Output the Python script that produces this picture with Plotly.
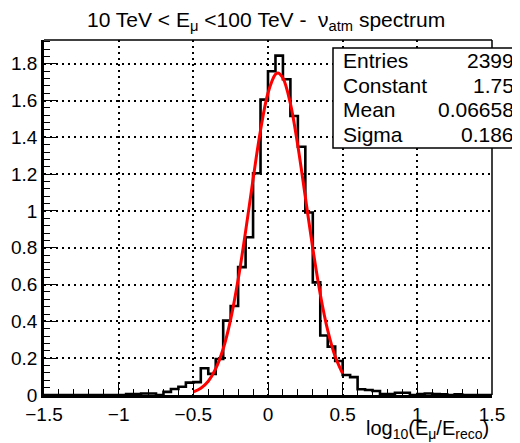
import plotly.graph_objects as go

# the page puts the figure 8px in from the top-left corner, so the figure is
# made 8px smaller and all placements below are given in window pixels
OFF = 8
W, H = 520 - OFF, 443 - OFF
FRAME_L, FRAME_R, FRAME_T, FRAME_B = 44, 492, 40, 395

# histogram binning: 60 bins of 0.05 between -1.5 and 1.5
bin_edges = [-1.5, -1.45, -1.4, -1.35, -1.3, -1.25, -1.2, -1.15, -1.1, -1.05,
             -1.0, -0.95, -0.9, -0.85, -0.8, -0.75, -0.7, -0.65, -0.6, -0.55,
             -0.5, -0.45, -0.4, -0.35, -0.3, -0.25, -0.2, -0.15, -0.1, -0.05,
             0.0, 0.05, 0.1, 0.15, 0.2, 0.25, 0.3, 0.35, 0.4, 0.45,
             0.5, 0.55, 0.6, 0.65, 0.7, 0.75, 0.8, 0.85, 0.9, 0.95,
             1.0, 1.05, 1.1, 1.15, 1.2, 1.25, 1.3, 1.35, 1.4, 1.45, 1.5]

# bin contents (normalised)
bin_content = [0, 0, 0, 0, 0, 0, 0, 0, 0, 0,
               0, 0.005, 0.005, 0.008, 0.008, 0.0, 0.017, 0.033, 0.045, 0.067,
               0.070, 0.145, 0.115, 0.196, 0.404, 0.484, 0.695, 0.857, 1.205, 1.605,
               1.759, 1.844, 1.716, 1.516, 1.349, 0.992, 0.612, 0.323, 0.263, 0.185,
               0.109, 0.097, 0.031, 0.027, 0.022, 0.005, 0.005, 0.012, 0.012, 0.0,
               0.005, 0.008, 0.005, 0.004, 0.0, 0.004, 0, 0, 0, 0]

# gaussian fit curve (red), sampled points
fit_x = [-0.5, -0.45, -0.4, -0.35, -0.3, -0.25, -0.2, -0.15, -0.1, -0.05,
         0.0, 0.05, 0.0666, 0.1, 0.15, 0.2, 0.25, 0.3, 0.35, 0.4, 0.45, 0.5]
fit_y = [0.017, 0.037, 0.075, 0.143, 0.251, 0.411, 0.627, 0.889, 1.172, 1.438,
         1.641, 1.743, 1.750, 1.722, 1.583, 1.353, 1.076, 0.796, 0.548, 0.351, 0.209, 0.116]

stats_labels = ["Entries", "Constant", "Mean", "Sigma"]
stats_values = ["2399", "1.75", "0.06658", "0.186"]

x_ticks = [-1.5, -1, -0.5, 0, 0.5, 1, 1.5]
x_ticktext = ["\u22121.5", "\u22121", "\u22120.5", "0", "0.5", "1", "1.5"]

FONT = "Liberation Sans, Arial, Helvetica, sans-serif"


def px_x(p):
    return (p - FRAME_L) / (FRAME_R - FRAME_L)


def px_y(p):
    return (FRAME_B - p) / (FRAME_B - FRAME_T)


fig = go.Figure()

fig.add_trace(go.Scatter(
    x=bin_edges, y=bin_content + [bin_content[-1]],
    mode="lines", line=dict(color="black", width=2.6, shape="hv"),
    showlegend=False, hoverinfo="skip",
))

fig.add_trace(go.Scatter(
    x=fit_x, y=fit_y,
    mode="lines", line=dict(color="#ff0000", width=3, shape="spline"),
    showlegend=False, hoverinfo="skip",
))

axis_common = dict(
    showline=True, linecolor="black", linewidth=2.5, automargin=False,
    ticks="inside", tickcolor="black", tickwidth=1,
    showgrid=True, gridcolor="black", gridwidth=1.5, griddash="2px,4px",
    zeroline=False, tickfont=dict(family=FONT, size=19, color="black"),
)

fig.update_xaxes(
    range=[-1.5, 1.5], tickvals=x_ticks, ticktext=x_ticktext, ticklen=12,
    minor=dict(dtick=0.1, tick0=-1.5, ticks="inside", ticklen=6, tickcolor="black", showgrid=False),
    **axis_common,
)
fig.update_yaxes(
    range=[0, 1.929], tick0=0, dtick=0.2, ticklen=12,
    minor=dict(dtick=0.04, tick0=0, ticks="inside", ticklen=6, tickcolor="black", showgrid=False),
    **axis_common,
)

shapes = [
    # top and right frame lines
    dict(type="line", xref="paper", yref="paper", x0=0, x1=1, y0=1, y1=1,
         line=dict(color="black", width=1.5)),
    dict(type="line", xref="paper", yref="paper", x0=1, x1=1, y0=0, y1=1,
         line=dict(color="black", width=1.5)),
    # stats box
    dict(type="rect", xref="paper", yref="paper",
         x0=px_x(333), x1=px_x(518), y0=px_y(148), y1=px_y(48),
         fillcolor="white", line=dict(color="black", width=1.5)),
]

annotations = [
    dict(text="10 TeV &lt; E<sub>\u03bc</sub> &lt;100 TeV -  \u03bd<sub>atm</sub> spectrum",
         xref="paper", yref="paper", x=px_x(266), y=px_y(21),
         xanchor="center", yanchor="middle", showarrow=False,
         font=dict(family=FONT, size=21, color="black")),
    dict(text="log<sub>10</sub>(E<sub>\u03bc</sub>/E<sub>reco</sub>)",
         xref="paper", yref="paper", x=px_x(491), y=px_y(429),
         xanchor="right", yanchor="middle", showarrow=False,
         font=dict(family=FONT, size=20, color="black")),
]

line_y = [60, 85, 110, 135]
for lab, val, yy in zip(stats_labels, stats_values, line_y):
    annotations.append(dict(text=lab, xref="paper", yref="paper", x=px_x(341), y=px_y(yy),
                            xanchor="left", yanchor="middle", showarrow=False,
                            font=dict(family=FONT, size=21, color="black")))
    annotations.append(dict(text=val, xref="paper", yref="paper", x=px_x(516), y=px_y(yy),
                            xanchor="right", yanchor="middle", showarrow=False,
                            font=dict(family=FONT, size=21, color="black")))

fig.update_layout(
    width=W, height=H,
    margin=dict(l=FRAME_L - OFF, r=520 - FRAME_R, t=FRAME_T - OFF, b=443 - FRAME_B, pad=0),
    paper_bgcolor="white", plot_bgcolor="white",
    showlegend=False,
    shapes=shapes, annotations=annotations,
    font=dict(family=FONT, color="black"),
)

fig.write_html("out.html")
